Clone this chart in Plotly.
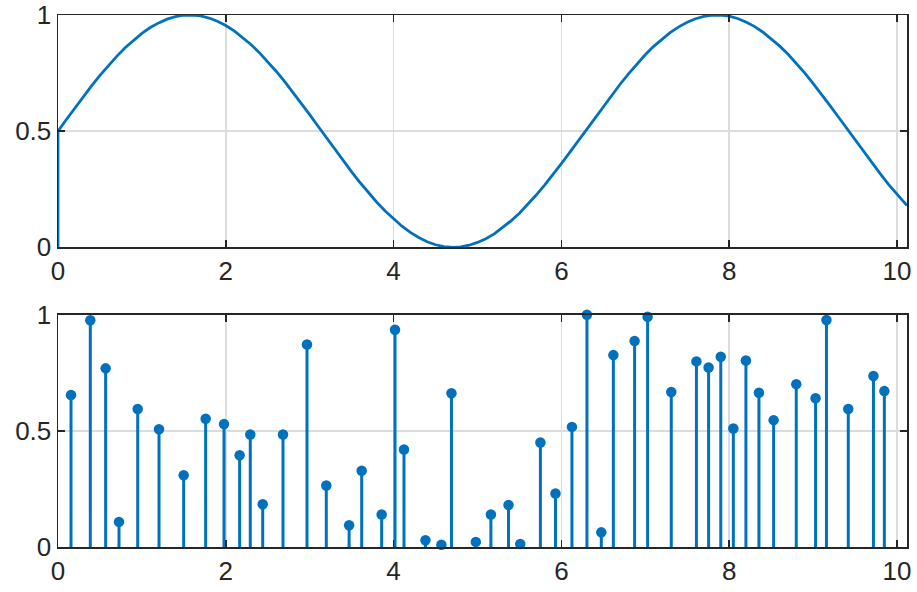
import plotly.graph_objects as go
from plotly.subplots import make_subplots

# Top panel: curve samples
curve_x = [0, 0, 0.1, 0.2, 0.3, 0.4, 0.5, 0.6, 0.7, 0.8, 0.9, 1.0, 1.1, 1.2, 1.3, 1.4, 1.5,
           1.57, 1.6, 1.7, 1.8, 1.9, 2.0, 2.1, 2.2, 2.3, 2.4, 2.5, 2.6, 2.7, 2.8, 2.9, 3.0,
           3.1, 3.2, 3.3, 3.4, 3.5, 3.6, 3.7, 3.8, 3.9, 4.0, 4.1, 4.2, 4.3, 4.4, 4.5, 4.6,
           4.71, 4.8, 4.9, 5.0, 5.1, 5.2, 5.3, 5.4, 5.5, 5.6, 5.7, 5.8, 5.9, 6.0, 6.1, 6.2,
           6.3, 6.4, 6.5, 6.6, 6.7, 6.8, 6.9, 7.0, 7.1, 7.2, 7.3, 7.4, 7.5, 7.6, 7.7, 7.8,
           7.85, 7.9, 8.0, 8.1, 8.2, 8.3, 8.4, 8.5, 8.6, 8.7, 8.8, 8.9, 9.0, 9.1, 9.2, 9.3,
           9.4, 9.5, 9.6, 9.7, 9.8, 9.9, 10.0, 10.1, 10.12]
curve_y = [0, 0.5, 0.550, 0.599, 0.648, 0.695, 0.740, 0.782, 0.822, 0.859, 0.892, 0.921,
           0.946, 0.966, 0.982, 0.993, 0.999, 1.0, 1.0, 0.996, 0.987, 0.973, 0.955, 0.932,
           0.904, 0.873, 0.838, 0.799, 0.758, 0.714, 0.668, 0.620, 0.571, 0.521, 0.471,
           0.421, 0.372, 0.325, 0.279, 0.235, 0.194, 0.156, 0.122, 0.091, 0.064, 0.042,
           0.024, 0.011, 0.003, 0.0, 0.002, 0.009, 0.021, 0.037, 0.058, 0.084, 0.114,
           0.147, 0.184, 0.225, 0.268, 0.313, 0.360, 0.409, 0.458, 0.508, 0.558, 0.608,
           0.656, 0.702, 0.747, 0.789, 0.829, 0.865, 0.897, 0.925, 0.949, 0.969, 0.984,
           0.994, 0.999, 1.0, 0.999, 0.995, 0.985, 0.970, 0.951, 0.927, 0.899, 0.867,
           0.832, 0.792, 0.751, 0.706, 0.660, 0.611, 0.562, 0.512, 0.462, 0.413, 0.364,
           0.317, 0.271, 0.228, 0.187, 0.180]

# Bottom panel: stem samples
stem_x = [0.155, 0.385, 0.568, 0.727, 0.95, 1.204, 1.498, 1.76, 1.979, 2.165, 2.292, 2.44,
          2.682, 2.968, 3.198, 3.47, 3.62, 3.858, 4.017, 4.124, 4.38, 4.57, 4.69, 4.98, 5.16,
          5.37, 5.51, 5.75, 5.93, 6.126, 6.305, 6.476, 6.62, 6.873, 7.028, 7.31, 7.61, 7.755,
          7.90, 8.05, 8.20, 8.355, 8.53, 8.80, 9.03, 9.16, 9.42, 9.72, 9.85]
stem_y = [0.654, 0.976, 0.769, 0.108, 0.594, 0.507, 0.309, 0.552, 0.529, 0.395, 0.484, 0.184,
          0.484, 0.872, 0.265, 0.094, 0.328, 0.140, 0.935, 0.420, 0.029, 0.010, 0.662, 0.022,
          0.140, 0.181, 0.013, 0.450, 0.230, 0.517, 1.0, 0.063, 0.826, 0.887, 0.991, 0.667,
          0.799, 0.773, 0.819, 0.510, 0.803, 0.664, 0.546, 0.701, 0.640, 0.977, 0.594, 0.736,
          0.671]

x_ticks = [0, 2, 4, 6, 8, 10]
y_ticks = [0, 0.5, 1]
y_tick_text = ["0", "0.5", "1"]

BLUE = "#0072BD"
AX = "#262626"
GRID = "#dcdcdc"

fig = make_subplots(rows=2, cols=1, vertical_spacing=0.1266)

fig.add_trace(go.Scatter(x=curve_x, y=curve_y, mode="lines",
                         line=dict(color=BLUE, width=2.8), showlegend=False,
                         cliponaxis=False), row=1, col=1)

sx, sy = [], []
for xv, yv in zip(stem_x, stem_y):
    sx += [xv, xv, None]
    sy += [0, yv, None]
fig.add_trace(go.Scatter(x=sx, y=sy, mode="lines", line=dict(color=BLUE, width=3),
                         showlegend=False), row=2, col=1)
fig.add_trace(go.Scatter(x=stem_x, y=stem_y, mode="markers",
                         marker=dict(color=BLUE, size=10.5), showlegend=False,
                         cliponaxis=False), row=2, col=1)

axis_common = dict(showline=True, linecolor=AX, linewidth=1.5, mirror="allticks",
                   ticks="inside", ticklen=7, tickwidth=1.5, tickcolor=AX,
                   showgrid=True, gridcolor=GRID, gridwidth=1.5, zeroline=False,
                   automargin=False,
                   tickfont=dict(family="Liberation Sans, Arial", size=26, color=AX))
for r in (1, 2):
    fig.update_xaxes(range=[0, 10.12], tickvals=x_ticks, **axis_common, row=r, col=1)
    fig.update_yaxes(range=[0, 1], tickvals=y_ticks, ticktext=y_tick_text,
                     **axis_common, row=r, col=1)

fig.update_layout(width=917, height=592, margin=dict(l=58, r=10, t=15, b=45),
                  plot_bgcolor="white", paper_bgcolor="white", hovermode=False)
fig.write_html("out.html", config={"displayModeBar": False, "staticPlot": True},
               post_script="document.body.style.margin='0px';document.body.style.overflow='hidden';")
